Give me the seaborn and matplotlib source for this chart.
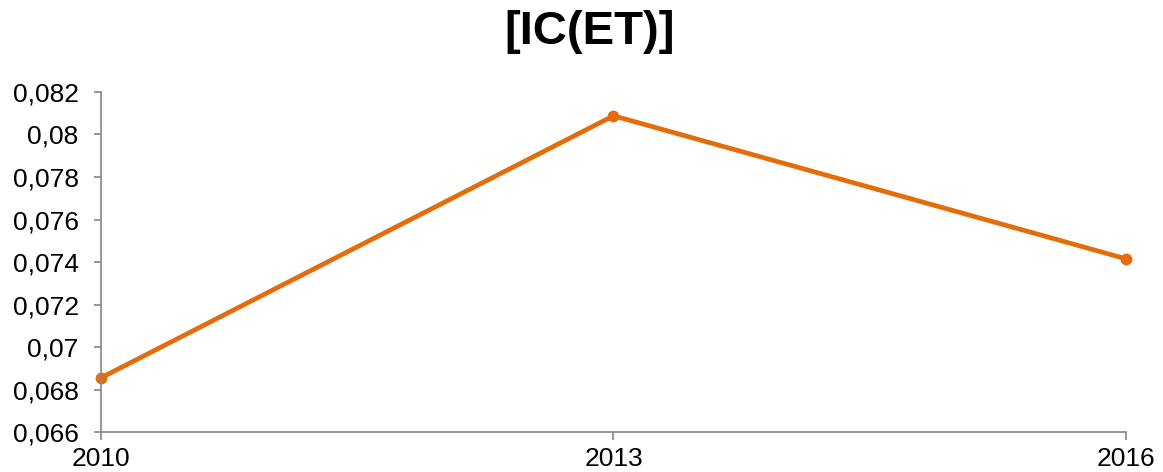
import matplotlib
matplotlib.use("Agg")
import matplotlib.pyplot as plt
import seaborn as sns
import pandas as pd
from matplotlib.ticker import FuncFormatter, FixedLocator

# Series values
years = [2010, 2013, 2016]
values = [0.06855, 0.08088, 0.07415]
title = "[IC(ET)]"

y_ticks = [0.066, 0.068, 0.070, 0.072, 0.074, 0.076, 0.078, 0.080, 0.082]

sns.set_style("white")
plt.rcParams["font.family"] = ["Liberation Sans", "DejaVu Sans"]

df = pd.DataFrame({"year": years, "value": values})

fig = plt.figure(figsize=(11.63, 4.72), dpi=100)
ax = fig.add_axes([0.0868, 0.0847, 0.8814, 0.7204])

line_color = "#E46C0A"
sns.lineplot(data=df, x="year", y="value", ax=ax, color=line_color,
             linewidth=3.4, marker="o", markersize=8.5, markeredgewidth=0,
             markerfacecolor=line_color, clip_on=False)

ax.set_xlim(2010, 2016)
ax.set_ylim(0.066, 0.082)
ax.xaxis.set_major_locator(FixedLocator(years))
ax.yaxis.set_major_locator(FixedLocator(y_ticks))


def comma_fmt(v, pos):
    s = f"{v:.3f}".rstrip("0").rstrip(".")
    return s.replace(".", ",")


ax.yaxis.set_major_formatter(FuncFormatter(comma_fmt))
ax.xaxis.set_major_formatter(FuncFormatter(lambda v, p: f"{int(round(v))}"))

ax.set_xlabel("")
ax.set_ylabel("")

spine_color = "#868686"
for side in ["top", "right"]:
    ax.spines[side].set_visible(False)
for side in ["left", "bottom"]:
    ax.spines[side].set_color(spine_color)
    ax.spines[side].set_linewidth(1.2)

ax.tick_params(axis="y", which="major", direction="out", length=5, width=1.2,
               color=spine_color, labelsize=19, pad=11, labelcolor="black", left=True)
ax.tick_params(axis="x", which="major", direction="out", length=6, width=1.2,
               color=spine_color, labelsize=19, pad=5, labelcolor="black", bottom=True)

fig.text(0.507, 0.932, title, ha="center", va="center",
         fontsize=34, fontweight="bold", color="black")

fig.savefig("out.png", dpi=100, facecolor="white")
